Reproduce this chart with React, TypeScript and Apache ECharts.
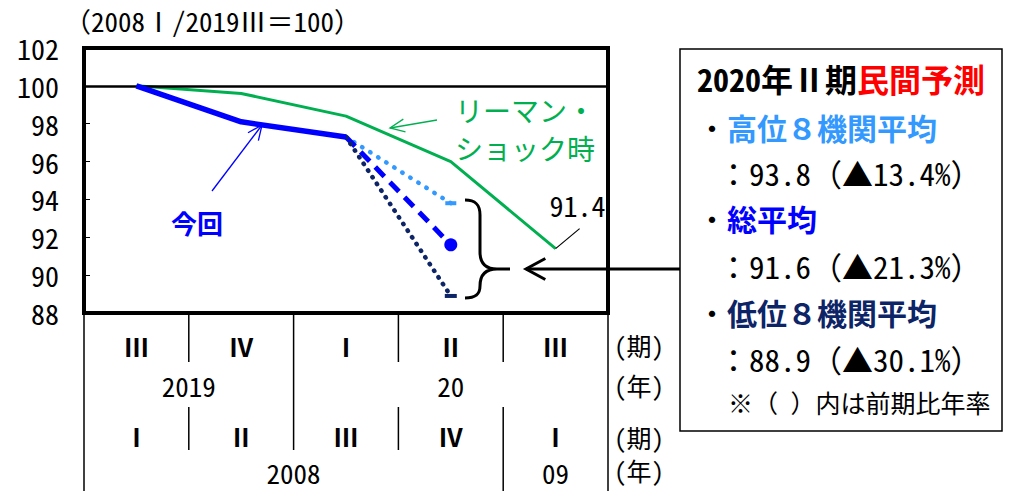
import React, { useEffect, useRef } from "react";
import * as echarts from "echarts";

const FONT = '"Noto Sans CJK JP", "Noto Sans", sans-serif';
const MONO = '"Noto Sans Mono CJK JP", "Noto Sans CJK JP", monospace';

// ---- data ----
const quartersRecent = ["Ⅲ", "Ⅳ", "Ⅰ", "Ⅱ", "Ⅲ"];
const quartersLehman = ["Ⅰ", "Ⅱ", "Ⅲ", "Ⅳ", "Ⅰ"];
const yearsRecent = [
  { label: "2019", from: 0, to: 1 },
  { label: "20", from: 2, to: 4 },
];
const yearsLehman = [
  { label: "2008", from: 0, to: 3 },
  { label: "09", from: 4, to: 4 },
];
const currentValues = [100, 98.1, 97.3, null, null];
const lehmanValues = [100, 99.6, 98.4, 96.0, 91.4];
const highForecast = [null, null, 97.3, 93.8, null];
const avgForecast = [null, null, 97.3, 91.6, null];
const lowForecast = [null, null, 97.3, 88.9, null];
const yMin = 88;
const yMax = 102;
const yInterval = 2;
const lehmanLastLabel = "91.4";
const baseTitle = "（2008Ⅰ/2019Ⅲ＝100）";
const panelTitleBlack = "2020年Ⅱ期";
const panelTitleRed = "民間予測";
const panelRows = [
  { name: "高位８機関平均", value: "：93.8（▲13.4%）", color: "#3399FF" },
  { name: "総平均", value: "：91.6（▲21.3%）", color: "#0000FF" },
  { name: "低位８機関平均", value: "：88.9（▲30.1%）", color: "#0D2466" },
];
const panelNote = "※（ ）内は前期比年率";

const BRACE =
  "M0,0 C11,0 15,5 15,15 L15,52 C15,63 20,69 32,69 L45,69 M32,69 C20,69 15,75 15,86 C15,94 11,98 0,98";
echarts.graphic.registerShape("brace", echarts.graphic.extendPath(BRACE, {}) as any);

function withEndSymbol(values: (number | null)[], symbol: string, size: any) {
  let last = -1;
  values.forEach((v, i) => {
    if (v != null) last = i;
  });
  return values.map((v, i) =>
    v == null ? null : { value: v, symbol: i === last ? symbol : "none", symbolSize: size }
  );
}

function arrow(tip: number[], tail: number[], color: string, width: number, head: number, ang = 0.42) {
  const dx = tail[0] - tip[0];
  const dy = tail[1] - tip[1];
  const L = Math.hypot(dx, dy);
  const ux = dx / L;
  const uy = dy / L;
  const rot = (a: number) => [
    tip[0] + head * (ux * Math.cos(a) - uy * Math.sin(a)),
    tip[1] + head * (ux * Math.sin(a) + uy * Math.cos(a)),
  ];
  return [
    { type: "line", shape: { x1: tail[0], y1: tail[1], x2: tip[0], y2: tip[1] }, style: { stroke: color, lineWidth: width }, z: 50 },
    { type: "polyline", shape: { points: [rot(ang), tip, rot(-ang)] }, style: { stroke: color, lineWidth: width, fill: null }, z: 50 },
  ];
}

export default function App() {
  const ref = useRef<HTMLDivElement>(null);
  useEffect(() => {
    if (!ref.current) return;
    const chart = echarts.init(ref.current, undefined, { renderer: "svg" });
    const axisLabelStyle = { color: "#000", fontFamily: MONO, fontSize: 25, fontWeight: "bold" as const };
    chart.setOption({
      animation: false,
      textStyle: { fontFamily: FONT },
      grid: { left: 84, right: 401, top: 48, bottom: 178, show: true, borderColor: "#000", borderWidth: 4, backgroundColor: "transparent" },
      xAxis: [
        {
          type: "category",
          data: quartersRecent,
          boundaryGap: true,
          axisLine: { show: false },
          axisTick: { show: false },
          axisLabel: { ...axisLabelStyle, margin: 20 },
        },
        {
          type: "category",
          data: quartersLehman,
          position: "bottom",
          offset: 94,
          boundaryGap: true,
          axisLine: { show: false },
          axisTick: { show: false },
          axisLabel: { ...axisLabelStyle, margin: 16 },
        },
      ],
      yAxis: {
        type: "value",
        min: yMin,
        max: yMax,
        interval: yInterval,
        axisLine: { show: false },
        axisTick: { show: true, inside: true, length: 6, lineStyle: { color: "#000", width: 1 } },
        splitLine: { show: false },
        axisLabel: { color: "#000", fontFamily: MONO, fontSize: 28, margin: 25 },
      },
      series: [
        {
          type: "line",
          data: lehmanValues,
          symbol: "none",
          lineStyle: { color: "#00B050", width: 3 },
          z: 3,
          markLine: {
            silent: true,
            symbol: ["none", "none"],
            label: { show: false },
            lineStyle: { color: "#000", width: 2.5, type: "solid" },
            data: [{ yAxis: 100 }],
          },
        },
        {
          type: "line",
          data: currentValues,
          symbol: "none",
          lineStyle: { color: "#0000FF", width: 5.5 },
          z: 5,
        },
        {
          type: "line",
          data: withEndSymbol(highForecast, "rect", [11, 4]),
          symbol: "none",
          showSymbol: true,
          itemStyle: { color: "#3399FF" },
          lineStyle: { color: "#3399FF", width: 4.5, type: [0.5, 9], cap: "round" },
          z: 4,
        },
        {
          type: "line",
          data: withEndSymbol(avgForecast, "circle", 13),
          symbol: "none",
          showSymbol: true,
          itemStyle: { color: "#0000FF" },
          lineStyle: { color: "#0000FF", width: 5, type: [13, 8] },
          z: 4,
        },
        {
          type: "line",
          data: withEndSymbol(lowForecast, "rect", [12, 4]),
          symbol: "none",
          showSymbol: true,
          itemStyle: { color: "#0D2466" },
          lineStyle: { color: "#0D2466", width: 4.5, type: [0.5, 7.5], cap: "round" },
          z: 4,
        },
      ],
    });

    const cx = (i: number) => chart.convertToPixel({ xAxisIndex: 0 }, i) as number;
    const cy = (v: number) => chart.convertToPixel({ yAxisIndex: 0 }, v) as number;
    const step = cx(1) - cx(0);
    const bx = (b: number) => cx(0) - step / 2 + b * step;
    const axisY = cy(yMin);
    const n = quartersRecent.length;

    const g: any[] = [];
    const line = (x1: number, y1: number, x2: number, y2: number, w = 1.5, c = "#000") =>
      g.push({ type: "line", shape: { x1, y1, x2, y2 }, style: { stroke: c, lineWidth: w }, z: 40 });
    const text = (t: string, x: number, y: number, opts: any = {}) =>
      g.push({
        type: "text",
        x,
        y,
        z: 60,
        style: {
          text: t,
          fill: opts.fill || "#000",
          font: `${opts.weight || "normal"} ${opts.size || 24}px ${opts.family || MONO}`,
          align: opts.align || "center",
          verticalAlign: "middle",
          ...(opts.rich ? { rich: opts.rich } : {}),
        },
      });

    // table separators
    const recentBounds = new Set<number>([0, n]);
    yearsRecent.forEach((y) => {
      recentBounds.add(y.from);
      recentBounds.add(y.to + 1);
    });
    const lehmanBounds = new Set<number>([0, n]);
    yearsLehman.forEach((y) => {
      lehmanBounds.add(y.from);
      lehmanBounds.add(y.to + 1);
    });
    const split = axisY + 94;
    for (let b = 0; b <= n; b++) {
      const x = bx(b);
      line(x, axisY, x, recentBounds.has(b) ? split : axisY + 49);
      line(x, split, x, lehmanBounds.has(b) ? 491 : axisY + 137);
    }
    yearsRecent.forEach((y) => text(y.label, (bx(y.from) + bx(y.to + 1)) / 2, axisY + 72, { size: 27 }));
    yearsLehman.forEach((y) => text(y.label, (bx(y.from) + bx(y.to + 1)) / 2, axisY + 159, { size: 27 }));
    const ux = bx(n) + 6;
    text("(期)", ux, axisY + 32, { align: "left", size: 25 });
    text("(年)", ux, axisY + 72, { align: "left", size: 25 });
    text("(期)", ux, axisY + 124, { align: "left", size: 25 });
    text("(年)", ux, axisY + 157, { align: "left", size: 25 });

    // base title
    text(baseTitle, 64, 20, { align: "left", size: 27 });

    // annotations
    text("今回", 197, 222, { fill: "#0000FF", weight: "bold", size: 26 });
    g.push(...arrow([262, 125], [212, 191], "#0000FF", 1.3, 16));
    text("リーマン・", 455, 110, { fill: "#00B050", size: 28, align: "left" });
    text("ショック時", 455, 148, { fill: "#00B050", size: 28, align: "left" });
    g.push(...arrow([390, 128], [437, 120], "#00B050", 1.3, 16));

    const lastX = cx(n - 1);
    const lastY = cy(lehmanValues[n - 1]);
    line(lastX, lastY, lastX + 24, lastY - 20, 1.2);
    text(lehmanLastLabel, lastX - 6, 205, { align: "left", size: 28 });

    // brace and big arrow
    g.push({ type: "brace", x: 465, y: 200, style: { stroke: "#000", lineWidth: 3, fill: "none" }, z: 50 });
    g.push(...arrow([526, 269], [680, 269], "#000", 3, 22, 0.5));

    // right panel
    g.push({ type: "rect", shape: { x: 680, y: 49, width: 322, height: 382 }, style: { stroke: "#000", lineWidth: 1.5, fill: "#fff" }, z: 45 });
    text(`{a|${panelTitleBlack}}{b|${panelTitleRed}}`, 697, 78, {
      align: "left",
      size: 32,
      weight: "bold",
      rich: {
        a: { fill: "#000", fontSize: 32, fontWeight: "bold", fontFamily: MONO },
        b: { fill: "#FF0000", fontSize: 32, fontWeight: "bold", fontFamily: MONO },
      },
    });
    line(697, 95, 986, 95, 2);
    const rowY = [127, 172, 218, 265, 312, 358];
    panelRows.forEach((r, i) => {
      text(`{k|・}{c|${r.name}}`, 697, rowY[i * 2], {
        align: "left",
        size: 30,
        rich: {
          k: { fill: "#000", fontSize: 30, fontFamily: MONO },
          c: { fill: r.color, fontSize: 30, fontWeight: "bold", fontFamily: MONO },
        },
      });
      text(r.value, 718, rowY[i * 2 + 1], { align: "left", size: 31 });
    });
    text(panelNote, 728, 402, { align: "left", size: 25 });

    chart.setOption({ graphic: { elements: g } });
    return () => chart.dispose();
  }, []);
  return <div ref={ref} style={{ position: "absolute", left: 0, top: 0, width: 1009, height: 491 }} />;
}
